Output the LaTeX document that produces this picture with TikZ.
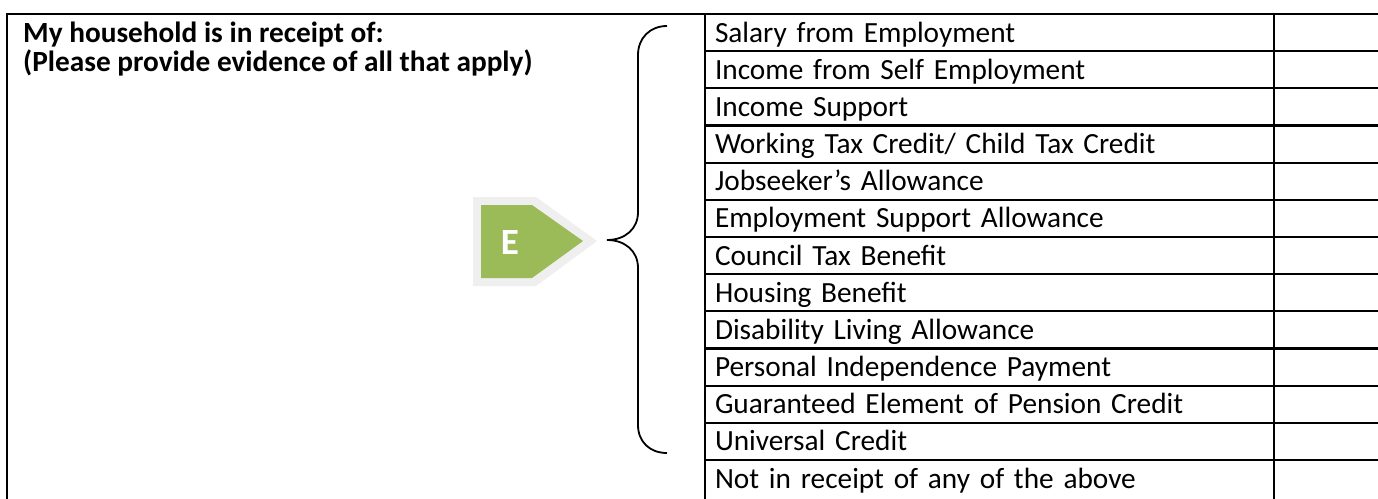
\documentclass[tikz,border=0pt]{standalone}
\usepackage{fontspec}
\setmainfont{Carlito}
\definecolor{egreen}{HTML}{9BBB59}
\definecolor{halo}{HTML}{EFEFEF}
\newcommand{\fsz}{\fontsize{29.3}{35}\selectfont}
\tikzset{
  grid/.style={draw=black, line width=2.1pt, outer sep=0pt},
  rowcell/.style={grid, minimum width=569pt, minimum height=37.17pt,
    text height=28pt, text depth=9.17pt, inner xsep=10pt, inner ysep=0pt,
    text width=549pt, align=left, anchor=north west, font=\fsz},
  tickcell/.style={grid, minimum width=120pt, minimum height=37.17pt,
    inner sep=0pt, anchor=north west},
  headtext/.style={anchor=base west, inner sep=0pt, font=\fsz\bfseries},
  bracepath/.style={draw=black, line width=1.8pt},
}
\begin{document}
\begin{tikzpicture}[x=1pt,y=-1pt]
\useasboundingbox (0,0) rectangle (1378,498);
\clip (0,0) rectangle (1378,498);
\fill[white] (0,0) rectangle (1378,498);
% left header cell
\node[grid, anchor=north west, minimum width=698pt, minimum height=500pt, inner sep=0pt] (head) at (7,14) {};
\node[headtext] (h1) at (23,42) {My household is in receipt of:};
\node[headtext] (h2) at (23,71.5) {(Please provide evidence of all that apply)};
% rows
\foreach \t [count=\i] in {Salary from Employment,Income from Self Employment,Income Support,Working Tax Credit/ Child Tax Credit,Jobseeker’s Allowance,Employment Support Allowance,Council Tax Benefit,Housing Benefit,Disability Living Allowance,Personal Independence Payment,Guaranteed Element of Pension Credit,Universal Credit}{
  \node[rowcell] (row\i) at (705,{14+(\i-1)*37.17}) {\t};
  \node[tickcell] (tick\i) at (row\i.north east) {};
}
\node[rowcell, minimum height=42pt, text depth=14pt] (row13) at (705,{14+12*37.17}) {Not in receipt of any of the above};
\node[tickcell, minimum height=42pt] (tick13) at (row13.north east) {};
% pentagon marker
\fill[halo] (473,197) -- (536,197) -- (597,241) -- (536,286) -- (473,286) -- cycle;
\fill[egreen] (481,205) -- (532,205) -- (583,241) -- (532,278) -- (481,278) -- cycle;
\node[text=white, font=\fontsize{37}{40}\selectfont\bfseries, inner sep=0pt] (E) at (510,242) {E};
% brace
\draw[bracepath] (667,26) .. controls (650,26) and (638,38) .. (638,55)
  -- (638,212) .. controls (638,229) and (625,240) .. (607,240)
  .. controls (625,240) and (638,251) .. (638,268)
  -- (638,425) .. controls (638,442) and (650,453) .. (667,453);
\end{tikzpicture}
\end{document}
